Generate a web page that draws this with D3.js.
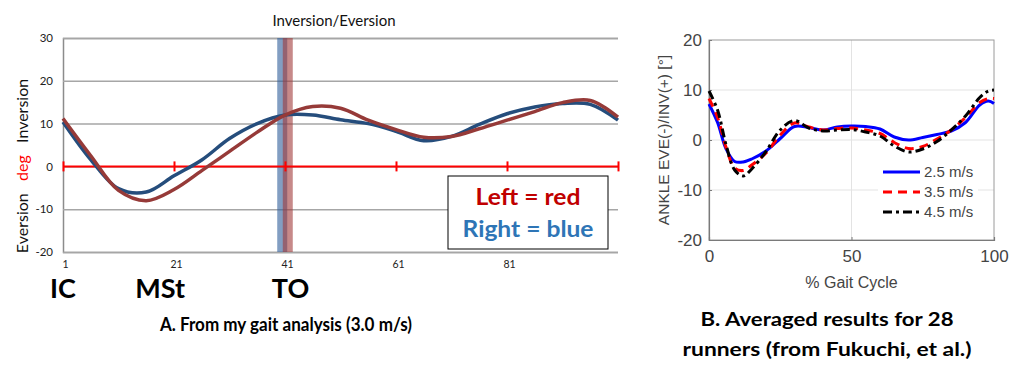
<!DOCTYPE html>
<html>
<head>
<meta charset="utf-8">
<script src="https://cdn.jsdelivr.net/npm/d3@7"></script>
<style>
  body { margin: 0; background: #fff; }
  svg { display: block; }
</style>
</head>
<body>
<svg id="chart" width="1015" height="365"></svg>
<script>
// ---- chart A: my gait analysis ----
const gaitPoints = [1, 6, 11, 16, 21, 26, 31, 36, 41, 46, 51, 56, 61, 66, 71, 76, 81, 86, 91, 96, 101]
const rightFoot = [10.4, 1.6, -5.2, -6.0, -2.2, 1.5, 6.5, 10.0, 12.0, 12.0, 10.9, 10.0, 8.2, 6.0, 7.0, 9.8, 12.3, 13.9, 14.7, 14.5, 10.8]
const leftFoot = [11.2, 2.5, -5.6, -8.0, -5.4, -1.0, 3.5, 8.0, 12.0, 14.0, 13.6, 10.8, 8.6, 6.8, 7.0, 8.8, 10.8, 12.8, 14.9, 15.4, 11.5]
const gaitTicks = [1, 21, 41, 61, 81]
const degTicks = [-20, -10, 0, 10, 20, 30]
const toeOff = { right: 40.5, left: 41.5 }
const markers = [{ label: "IC", at: 1 }, { label: "MSt", at: 18.5 }, { label: "TO", at: 42 }]

// ---- chart B: Fukuchi et al. ----
const pct = [0, 3, 6, 9, 12, 15, 20, 25, 30, 35, 40, 45, 50, 55, 60, 65, 70, 75, 80, 85, 90, 95, 98, 100]
const speed25 = [7.2, 3.5, -1.8, -4.3, -4.4, -3.8, -2.2, 0.3, 2.7, 2.5, 2.0, 2.6, 2.8, 2.7, 2.2, 0.6, 0.0, 0.5, 1.1, 1.8, 3.5, 7.0, 7.8, 7.3]
const speed35 = [8.3, 4.5, -1.5, -5.6, -6.1, -5.0, -2.6, 1.0, 3.4, 2.6, 2.0, 2.3, 2.4, 2.0, 1.3, -0.5, -1.7, -1.3, 0.2, 2.0, 4.5, 7.5, 8.3, 8.3]
const speed45 = [9.8, 6.0, -1.0, -6.0, -7.2, -5.8, -2.3, 2.0, 3.9, 2.4, 1.8, 2.0, 2.1, 1.6, 0.8, -1.2, -2.4, -1.8, -0.3, 2.0, 4.8, 8.5, 9.8, 10.0]
const speedLabels = ["2.5 m/s", "3.5 m/s", "4.5 m/s"]
const pctTicks = [0, 50, 100]
const angleTicks = [-20, -10, 0, 10, 20]

const svg = d3.select("#chart")
const calibri = "Lato, 'Open Sans', sans-serif"
const arial = "'Liberation Sans', Arial, sans-serif"
const plain = d => String(d)

// ================= chart A =================
let a = { left: 63, right: 618, top: 38, bottom: 252 }

let xA = d3.scaleLinear().domain([1, 101]).range([a.left, a.right])
let yA = d3.scaleLinear().domain([-20, 30]).range([a.bottom, a.top])

// gridlines + y labels
let yAxisA = svg.append("g")
    .attr("transform", `translate(${a.left},0)`)
    .call(d3.axisLeft(yA).tickValues(degTicks).tickFormat(plain).tickSize(-(a.right - a.left)).tickPadding(10))
yAxisA.select(".domain").attr("stroke", "#8c8c8c").attr("stroke-width", 1.5)
yAxisA.selectAll(".tick line").attr("stroke", "#a6a6a6").attr("stroke-width", 1.5)
yAxisA.selectAll(".tick text")
    .attr("font-family", calibri).attr("font-size", 11.5).attr("fill", "#222")

// x labels under plot
let xAxisA = svg.append("g")
    .attr("transform", `translate(0,${a.bottom + 6})`)
    .call(d3.axisBottom(xA).tickValues(gaitTicks).tickSize(0))
xAxisA.select(".domain").remove()
xAxisA.selectAll(".tick text")
    .attr("font-family", calibri).attr("font-size", 10.5).attr("fill", "#222")
    .attr("dx", 2)

// toe-off bands
svg.append("rect")
    .attr("x", xA(toeOff.right) - 5).attr("y", a.top)
    .attr("width", 10).attr("height", a.bottom - a.top)
    .attr("fill", "#2f5d9a").attr("opacity", 0.6)
svg.append("rect")
    .attr("x", xA(toeOff.left) - 5).attr("y", a.top)
    .attr("width", 10).attr("height", a.bottom - a.top)
    .attr("fill", "#a03a3a").attr("opacity", 0.6)

// red zero line with ticks
let zeroAxis = svg.append("g")
    .attr("transform", `translate(0,${yA(0)})`)
    .call(d3.axisBottom(xA).tickValues(gaitTicks.concat([101])).tickSize(5).tickFormat(""))
zeroAxis.select(".domain").attr("stroke", "#ff0000").attr("stroke-width", 2).attr("d", `M${a.left},0H${a.right}`)
zeroAxis.selectAll(".tick line").attr("stroke", "#ff0000").attr("stroke-width", 2).attr("y1", -5).attr("y2", 5)

let lineA = d3.line()
    .x((d, i) => xA(gaitPoints[i]))
    .y(d => yA(d))
    .curve(d3.curveCatmullRom.alpha(0.5))

svg.append("path").datum(rightFoot)
    .attr("d", lineA).attr("fill", "none")
    .attr("stroke", "#254d7c").attr("stroke-width", 3.5)
svg.append("path").datum(leftFoot)
    .attr("d", lineA).attr("fill", "none")
    .attr("stroke", "#963a38").attr("stroke-width", 3.5)

// title
svg.append("text")
    .attr("x", 334).attr("y", 26)
    .attr("text-anchor", "middle")
    .attr("font-family", calibri).attr("font-size", 15).attr("fill", "#111")
    .text("Inversion/Eversion")

// y label
let yLab = svg.append("text")
    .attr("transform", `translate(28,166) rotate(-90)`)
    .attr("text-anchor", "middle")
    .attr("font-family", calibri).attr("font-size", 16).attr("fill", "#111")
    .attr("xml:space", "preserve")
yLab.append("tspan").text("Eversion   ")
yLab.append("tspan").attr("fill", "#ff0000").text("deg")
yLab.append("tspan").text("   Inversion")

// legend box
svg.append("rect")
    .attr("x", 448).attr("y", 176).attr("width", 160).attr("height", 73)
    .attr("fill", "#fff").attr("stroke", "#000").attr("stroke-width", 1)
svg.append("text")
    .attr("x", 528).attr("y", 205).attr("text-anchor", "middle")
    .attr("font-family", calibri).attr("font-weight", "bold").attr("font-size", 23)
    .attr("fill", "#c00000").attr("textLength", 105).attr("lengthAdjust", "spacingAndGlyphs")
    .text("Left = red")
svg.append("text")
    .attr("x", 528).attr("y", 237).attr("text-anchor", "middle")
    .attr("font-family", calibri).attr("font-weight", "bold").attr("font-size", 23)
    .attr("fill", "#2e75b6").attr("textLength", 131).attr("lengthAdjust", "spacingAndGlyphs")
    .text("Right = blue")

// gait event markers
svg.selectAll(".marker")
    .data(markers)
    .enter()
    .append("text")
    .attr("x", d => xA(d.at))
    .attr("y", 298)
    .attr("text-anchor", "middle")
    .attr("font-family", calibri).attr("font-weight", "bold").attr("font-size", 27)
    .attr("fill", "#000")
    .text(d => d.label)

svg.append("text")
    .attr("x", 286).attr("y", 331).attr("text-anchor", "middle")
    .attr("font-family", calibri).attr("font-weight", "bold").attr("font-size", 19)
    .attr("textLength", 252).attr("lengthAdjust", "spacingAndGlyphs")
    .text("A. From my gait analysis (3.0 m/s)")

// ================= chart B =================
let b = { left: 709, right: 994, top: 40, bottom: 240 }

let xB = d3.scaleLinear().domain([0, 100]).range([b.left, b.right])
let yB = d3.scaleLinear().domain([-20, 20]).range([b.bottom, b.top])

// grid
svg.append("g")
    .selectAll("line.gy")
    .data(angleTicks.slice(1, -1))
    .enter()
    .append("line")
    .attr("x1", b.left).attr("x2", b.right)
    .attr("y1", d => yB(d)).attr("y2", d => yB(d))
    .attr("stroke", "#e3e3e3").attr("stroke-width", 1)
svg.append("line")
    .attr("x1", xB(50)).attr("x2", xB(50))
    .attr("y1", b.top).attr("y2", b.bottom)
    .attr("stroke", "#e3e3e3").attr("stroke-width", 1)

// box
svg.append("rect")
    .attr("x", b.left).attr("y", b.top)
    .attr("width", b.right - b.left).attr("height", b.bottom - b.top)
    .attr("fill", "none").attr("stroke", "#9a9a9a").attr("stroke-width", 1)

let yAxisB = svg.append("g")
    .attr("transform", `translate(${b.left},0)`)
    .call(d3.axisLeft(yB).tickValues(angleTicks).tickFormat(plain).tickSize(-3).tickPadding(7))
yAxisB.select(".domain").attr("stroke", "#7a7a7a").attr("stroke-width", 1.2)
yAxisB.selectAll(".tick line").attr("stroke", "#7a7a7a")
yAxisB.selectAll(".tick text")
    .attr("font-family", arial).attr("font-size", 17).attr("fill", "#444")

let xAxisB = svg.append("g")
    .attr("transform", `translate(0,${b.bottom})`)
    .call(d3.axisBottom(xB).tickValues(pctTicks).tickFormat(plain).tickSize(-3).tickPadding(10))
xAxisB.select(".domain").attr("stroke", "#7a7a7a").attr("stroke-width", 1.2)
xAxisB.selectAll(".tick line").attr("stroke", "#7a7a7a")
xAxisB.selectAll(".tick text")
    .attr("font-family", arial).attr("font-size", 17).attr("fill", "#444")

svg.append("text")
    .attr("x", xB(50)).attr("y", 288).attr("text-anchor", "middle")
    .attr("font-family", arial).attr("font-size", 16).attr("fill", "#444")
    .text("% Gait Cycle")

svg.append("text")
    .attr("transform", `translate(669,${(b.top + b.bottom) / 2}) rotate(-90)`)
    .attr("text-anchor", "middle")
    .attr("font-family", arial).attr("font-size", 15.5).attr("fill", "#444")
    .text("ANKLE EVE(-)/INV(+) [°]")

let lineB = d3.line()
    .x((d, i) => xB(pct[i]))
    .y(d => yB(d))
    .curve(d3.curveCatmullRom.alpha(0.5))

let speedSeries = [
    { values: speed25, color: "#0000ff", dash: null },
    { values: speed35, color: "#ff0000", dash: "9,6" },
    { values: speed45, color: "#000000", dash: "9,4,3,4" }
]

svg.selectAll(".speed")
    .data(speedSeries)
    .enter()
    .append("path")
    .attr("d", d => lineB(d.values))
    .attr("fill", "none")
    .attr("stroke", d => d.color)
    .attr("stroke-width", 3)
    .attr("stroke-dasharray", d => d.dash)

// legend
svg.append("rect")
    .attr("x", 878).attr("y", 161).attr("width", 100).attr("height", 62)
    .attr("fill", "#fff")
let leg = svg.selectAll(".leg")
    .data(speedSeries)
    .enter()
    .append("g")
    .attr("transform", (d, i) => `translate(883,${172 + i * 20})`)
leg.append("line")
    .attr("x1", 0).attr("x2", 37)
    .attr("stroke", d => d.color).attr("stroke-width", 3)
    .attr("stroke-dasharray", d => d.dash)
leg.append("text")
    .attr("x", 41).attr("y", 5)
    .attr("font-family", arial).attr("font-size", 15).attr("fill", "#444")
    .text((d, i) => speedLabels[i])

svg.append("text")
    .attr("x", 827).attr("y", 326).attr("text-anchor", "middle")
    .attr("font-family", calibri).attr("font-weight", "bold").attr("font-size", 19)
    .attr("textLength", 253).attr("lengthAdjust", "spacingAndGlyphs")
    .text("B. Averaged results for 28")
svg.append("text")
    .attr("x", 827).attr("y", 356).attr("text-anchor", "middle")
    .attr("font-family", calibri).attr("font-weight", "bold").attr("font-size", 19)
    .attr("textLength", 289).attr("lengthAdjust", "spacingAndGlyphs")
    .text("runners (from Fukuchi, et al.)")
</script>
</body>
</html>
